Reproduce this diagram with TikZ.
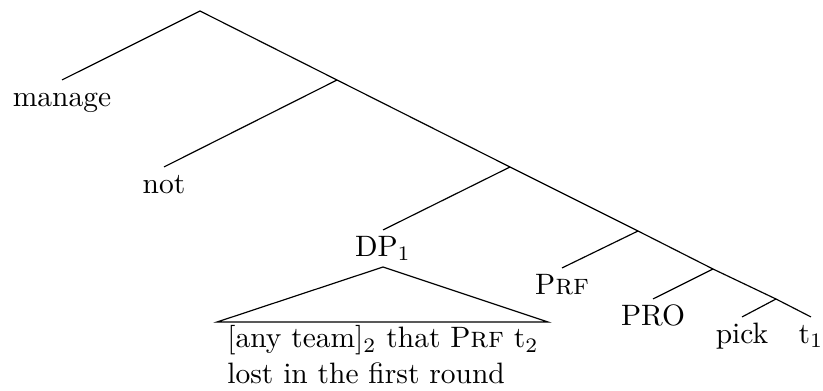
\documentclass[tikz,border=0pt]{standalone}
\begin{document}
\begin{tikzpicture}[x=0.339pt,y=-0.339pt,
  leaf/.style={anchor=base,inner sep=0pt,text height=6.83pt,text depth=0pt,outer sep=2pt},
  branch/.style={line width=0.4pt},
  block/.style={anchor=north,inner sep=0pt,align=left}]
\useasboundingbox (0,0) rectangle (823,390);
% internal points
\coordinate (root) at (200,11);
\coordinate (n2) at (337,80);
\coordinate (n3) at (510,167);
\coordinate (n4) at (638,231);
\coordinate (n5) at (713,269);
\coordinate (n6) at (776,299);
% leaves
\node[leaf] (manage) at (62,106) {manage};
\node[leaf] (not) at (164,193) {not};
\node[leaf] (dp) at (383,256) {DP$_1$};
\node[leaf] (prf) at (562,294) {P\textsc{rf}};
\node[leaf] (pro) at (653,325) {PRO};
\node[leaf] (pick) at (742,343) {pick};
\node[leaf] (t1) at (811,343) {t$_1$};
% branches
\draw[branch] (manage.north) -- (root) -- (n2) -- (n3) -- (n4) -- (n5) -- (n6) -- (t1.north);
\draw[branch] (n2) -- (not.north);
\draw[branch] (n3) -- (dp.north);
\draw[branch] (n4) -- (prf.north);
\draw[branch] (n5) -- (pro.north);
\draw[branch] (n6) -- (pick.north);
% triangle
\coordinate (apex) at (383,267);
\coordinate (bl) at (217,322);
\coordinate (br) at (548,322);
\draw[branch] (apex) -- (bl) -- (br) -- cycle;
\node[block] (text) at (383,325) {[any team]$_2$ that P\textsc{rf} t$_2$\\lost in the first round};
\end{tikzpicture}
\end{document}
